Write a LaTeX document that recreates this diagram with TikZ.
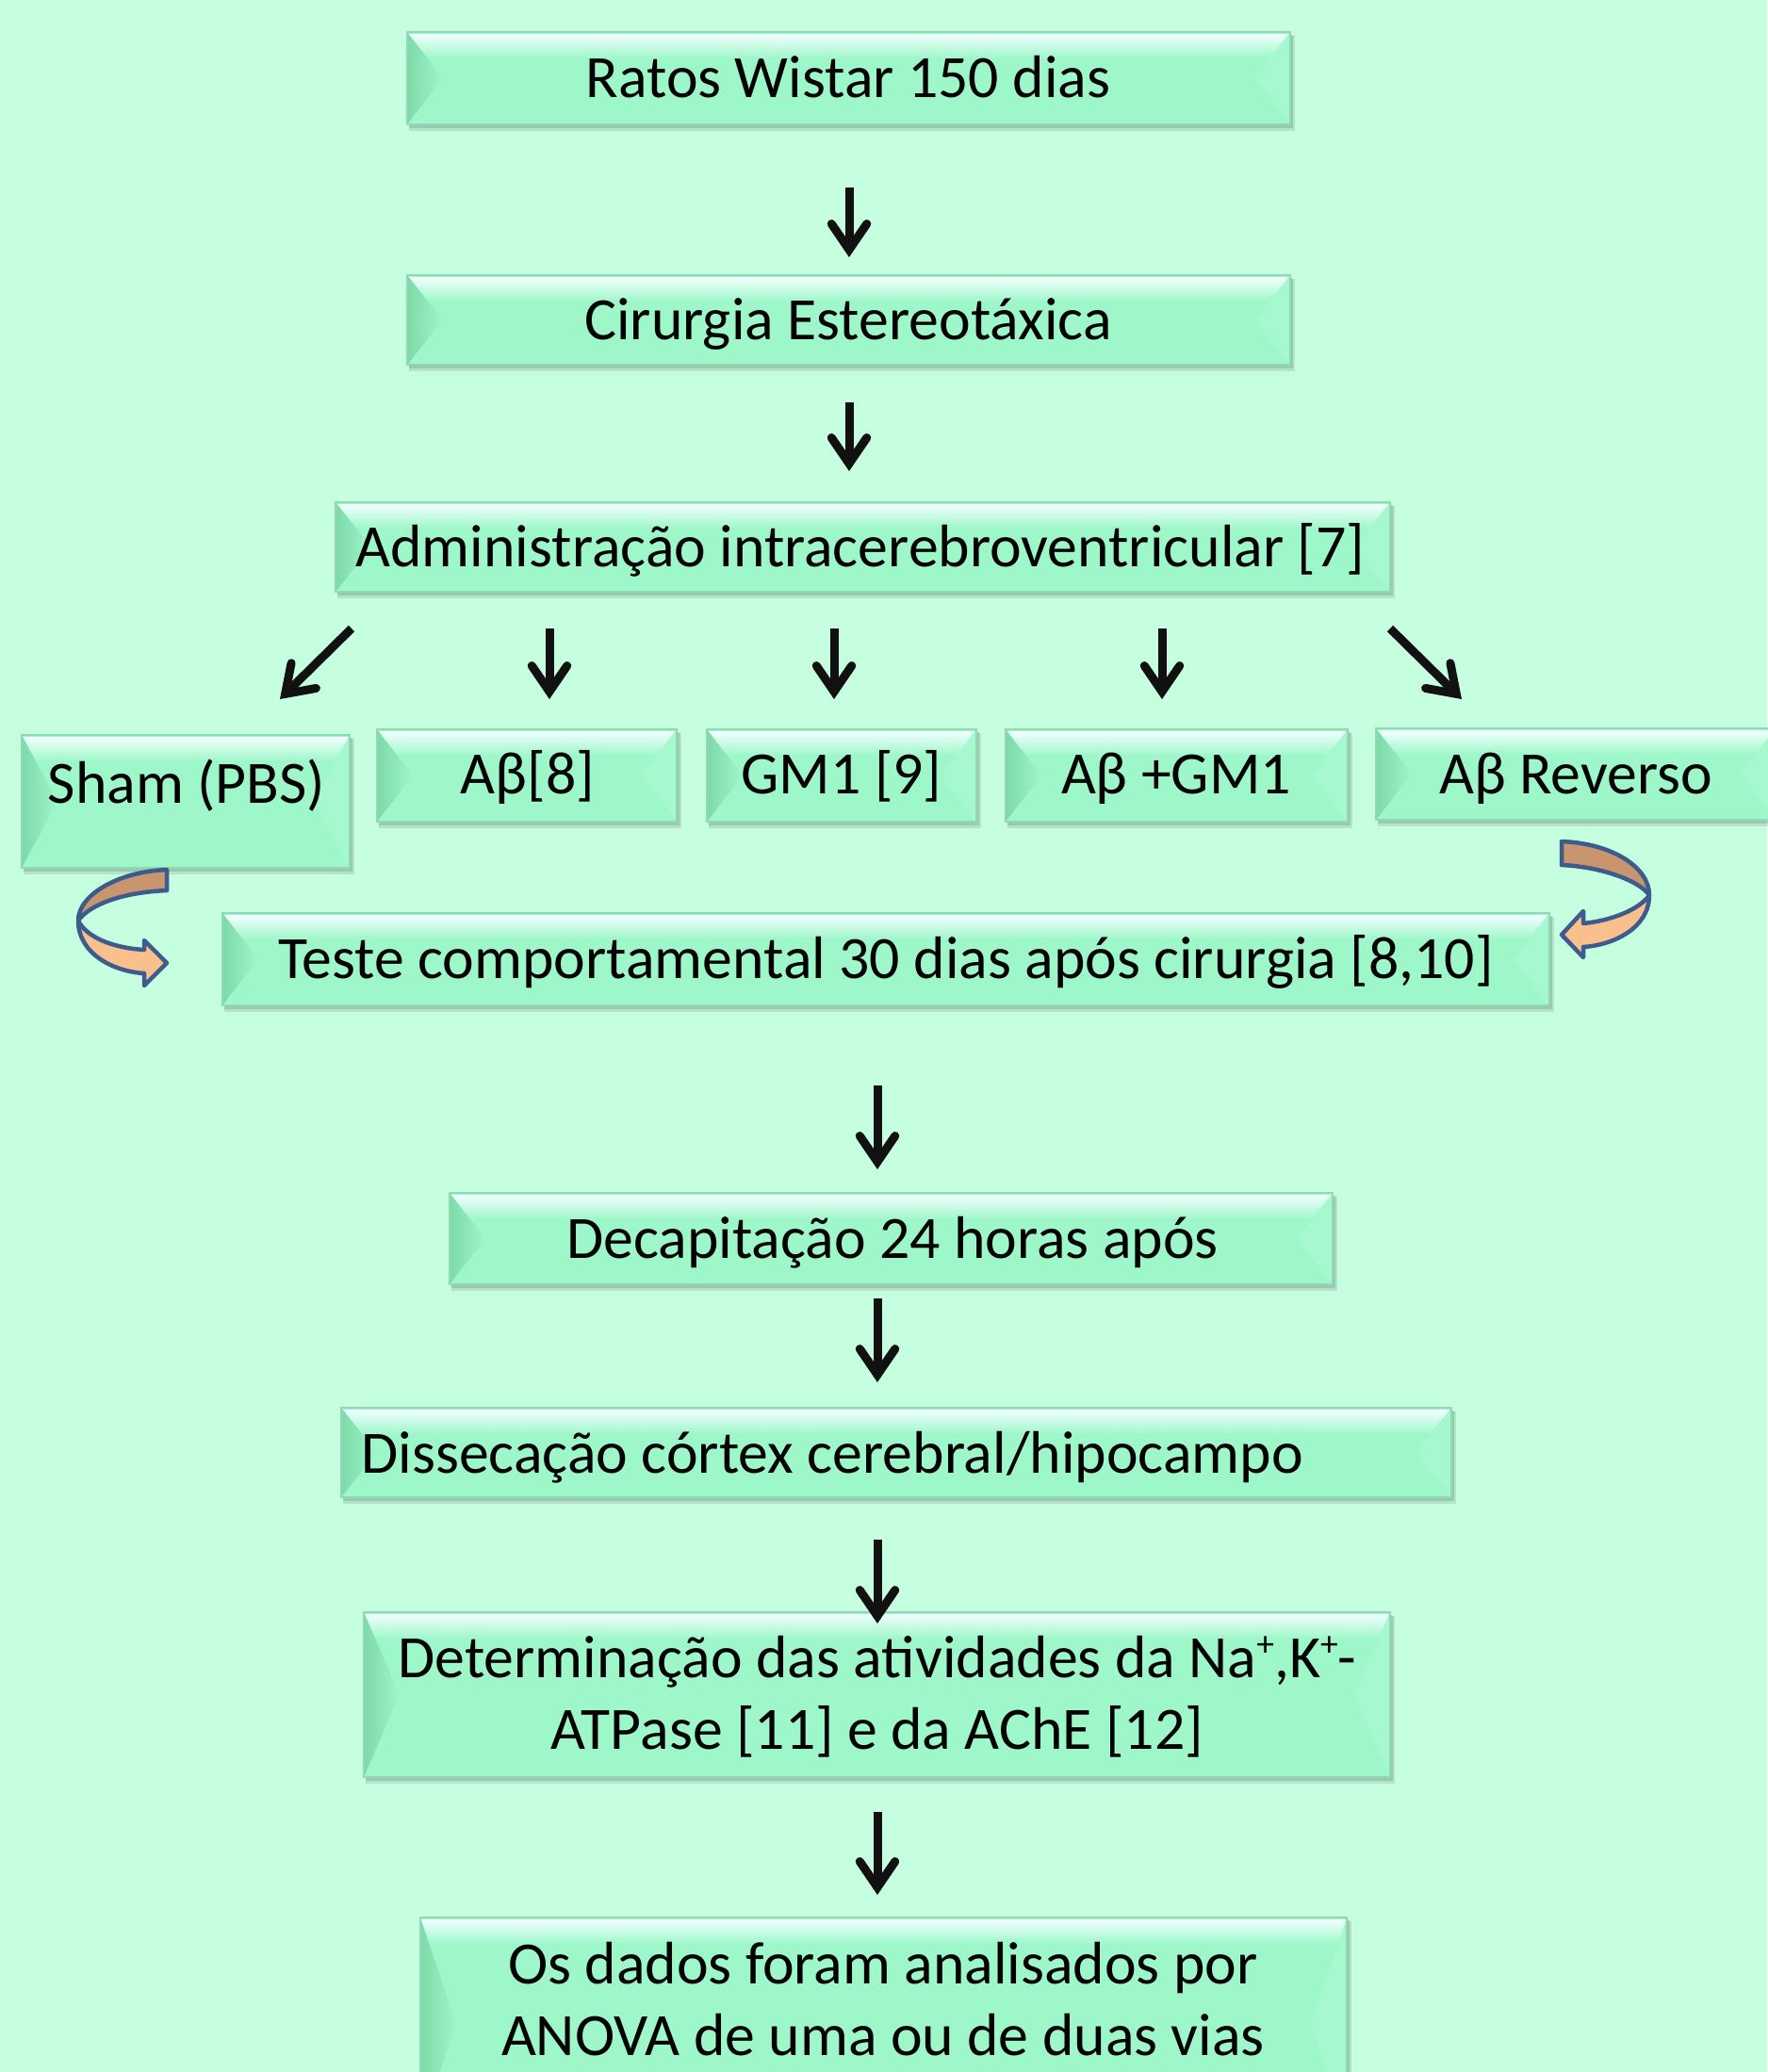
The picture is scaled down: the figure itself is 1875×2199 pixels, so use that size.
\documentclass[tikz,border=0pt]{standalone}
\usepackage{fontspec}
\setmainfont{Carlito}
\usetikzlibrary{arrows.meta}
\definecolor{bgc}{HTML}{C6FEE0}
\definecolor{bodyc}{HTML}{9DF7C9}
\definecolor{topc}{HTML}{F2FFFF}
\definecolor{leftc}{HTML}{7ED9A9}
\definecolor{rightc}{HTML}{A6F8CF}
\definecolor{edgec}{HTML}{8FD9B5}
\definecolor{arrc}{HTML}{111111}
\definecolor{brownc}{HTML}{C8956F}
\definecolor{orangec}{HTML}{F9BF8D}
\definecolor{outc}{HTML}{3D5C8C}
\newcommand\bevelbox[4]{%
  \pgfmathsetmacro\ymid{(#2+#4)/2}%
  \fill[black,opacity=0.10] (#1+2,#2+4) rectangle (#3+5,#4+7);
  \fill[black,opacity=0.12] (#1+2,#2+3) rectangle (#3+3,#4+4);
  \fill[bodyc] (#1,#2) rectangle (#3,#4);
  \shade[top color=topc,bottom color=bodyc] (#1,#2+2) rectangle (#3,#2+28);
  \shade[left color=leftc,right color=bodyc] (#1,#2) -- (#1+38,\ymid) -- (#1,#4) -- cycle;
  \fill[rightc] (#3,#2) -- (#3-38,\ymid) -- (#3,#4) -- cycle;
  \draw[edgec,line width=0.6pt] (#1,#2) rectangle (#3,#4);
}
\newcommand\supplus{\raisebox{0.36em}{\fontsize{15}{15}\selectfont +}}
\tikzset{
  txt/.style={font=\fontsize{25.5}{30.4}\selectfont, text=black, inner sep=0pt},
  arr/.style={draw=arrc, line width=3.6pt,
    -{Straight Barb[length=11pt,width=15pt,line cap=round,line join=miter]}},
  upperband/.style={fill=brownc, draw=outc, line width=1.8pt, line join=round},
  lowerband/.style={fill=orangec, draw=outc, line width=1.8pt, line join=round},
}
\begin{document}
\begin{tikzpicture}[x=0.4pt,y=-0.4pt]
\fill[bgc] (0,0) rectangle (1875,2199);
\useasboundingbox (0,0) rectangle (1875,2199);

% boxes
\bevelbox{432}{34}{1369}{132}
\bevelbox{432}{292}{1369}{387}
\bevelbox{356}{533}{1475}{628}
\bevelbox{23}{780}{371}{921}
\bevelbox{400}{774}{718}{872}
\bevelbox{750}{774}{1036}{872}
\bevelbox{1067}{774}{1430}{872}
\bevelbox{1460}{773}{1884}{870}
\bevelbox{236}{969}{1644}{1067}
\bevelbox{477}{1266}{1414}{1363}
\bevelbox{362}{1494}{1540}{1589}
\bevelbox{386}{1711}{1475}{1886}
\bevelbox{446}{2035}{1429}{2260}

% texts
\node[txt,anchor=base] (rat) at (900,103) {Ratos Wistar 150 dias};
\node[txt,anchor=base] (cir) at (900,360) {Cirurgia Estereotáxica};
\node[txt,anchor=base] (adm) at (913,601) {Administração intracerebroventricular [7]};
\node[txt,anchor=base] (sham) at (198,852) {Sham (PBS)};
\node[txt,anchor=base] (ab) at (560,842) {Aβ[8]};
\node[txt,anchor=base] (gm) at (893,842) {GM1 [9]};
\node[txt,anchor=base] (abgm) at (1248,842) {Aβ +GM1};
\node[txt,anchor=base] (abrev) at (1672,842) {Aβ Reverso};
\node[txt,anchor=base] (teste) at (940,1038) {Teste comportamental 30 dias após cirurgia [8,10]};
\node[txt,anchor=base] (decap) at (947,1335) {Decapitação 24 horas após};
\node[txt,anchor=base west] (dis) at (383,1563) {Dissecação córtex cerebral/hipocampo};
\node[txt,align=center] (det) at (931,1801) {Determinação das atividades da Na\supplus,K\supplus-\\ATPase [11] e da AChE [12]};
\node[txt,align=center] (ana) at (937,2122) {Os dados foram analisados por\\ANOVA de uma ou de duas vias};

% arrow end points
\coordinate (a1s) at (901,199); \coordinate (a1e) at (901,273);
\coordinate (a2s) at (901,427); \coordinate (a2e) at (901,500);
\coordinate (b1s) at (373,667); \coordinate (b1e) at (297,742);
\coordinate (b2s) at (583,667); \coordinate (b2e) at (583,742);
\coordinate (b3s) at (885,667); \coordinate (b3e) at (885,742);
\coordinate (b4s) at (1233,667); \coordinate (b4e) at (1233,742);
\coordinate (b5s) at (1475,667); \coordinate (b5e) at (1551,742);
\coordinate (a3s) at (931,1152); \coordinate (a3e) at (931,1241);
\coordinate (a4s) at (931,1378); \coordinate (a4e) at (931,1467);
\coordinate (a5s) at (931,1634); \coordinate (a5e) at (931,1723);
\coordinate (a6s) at (931,1923); \coordinate (a6e) at (931,2011);

\foreach \n in {a1,a2,b1,b2,b3,b4,b5,a3,a4,a5,a6}
  \draw[arr] (\n s) -- (\n e);

% curved arrows (left)
\draw[upperband] (177,923) .. controls (125,925) and (83,950) .. (83,977)
  .. controls (95,960) and (130,947) .. (177,945) -- cycle;
\draw[lowerband] (83,977) .. controls (83,1012) and (120,1031) .. (153,1033)
  -- (153,1046) -- (177,1022) -- (153,998) -- (153,1008)
  .. controls (120,1006) and (92,995) .. (83,977) -- cycle;
% curved arrows (right)
\draw[upperband] (1657,893) .. controls (1710,895) and (1750,920) .. (1750,950)
  .. controls (1740,935) and (1700,920) .. (1657,918) -- cycle;
\draw[lowerband] (1750,950) .. controls (1750,985) and (1712,1003) .. (1680,1005)
  -- (1680,1016) -- (1657,992) -- (1680,967) -- (1680,980)
  .. controls (1710,977) and (1740,965) .. (1750,950) -- cycle;
\end{tikzpicture}
\end{document}
